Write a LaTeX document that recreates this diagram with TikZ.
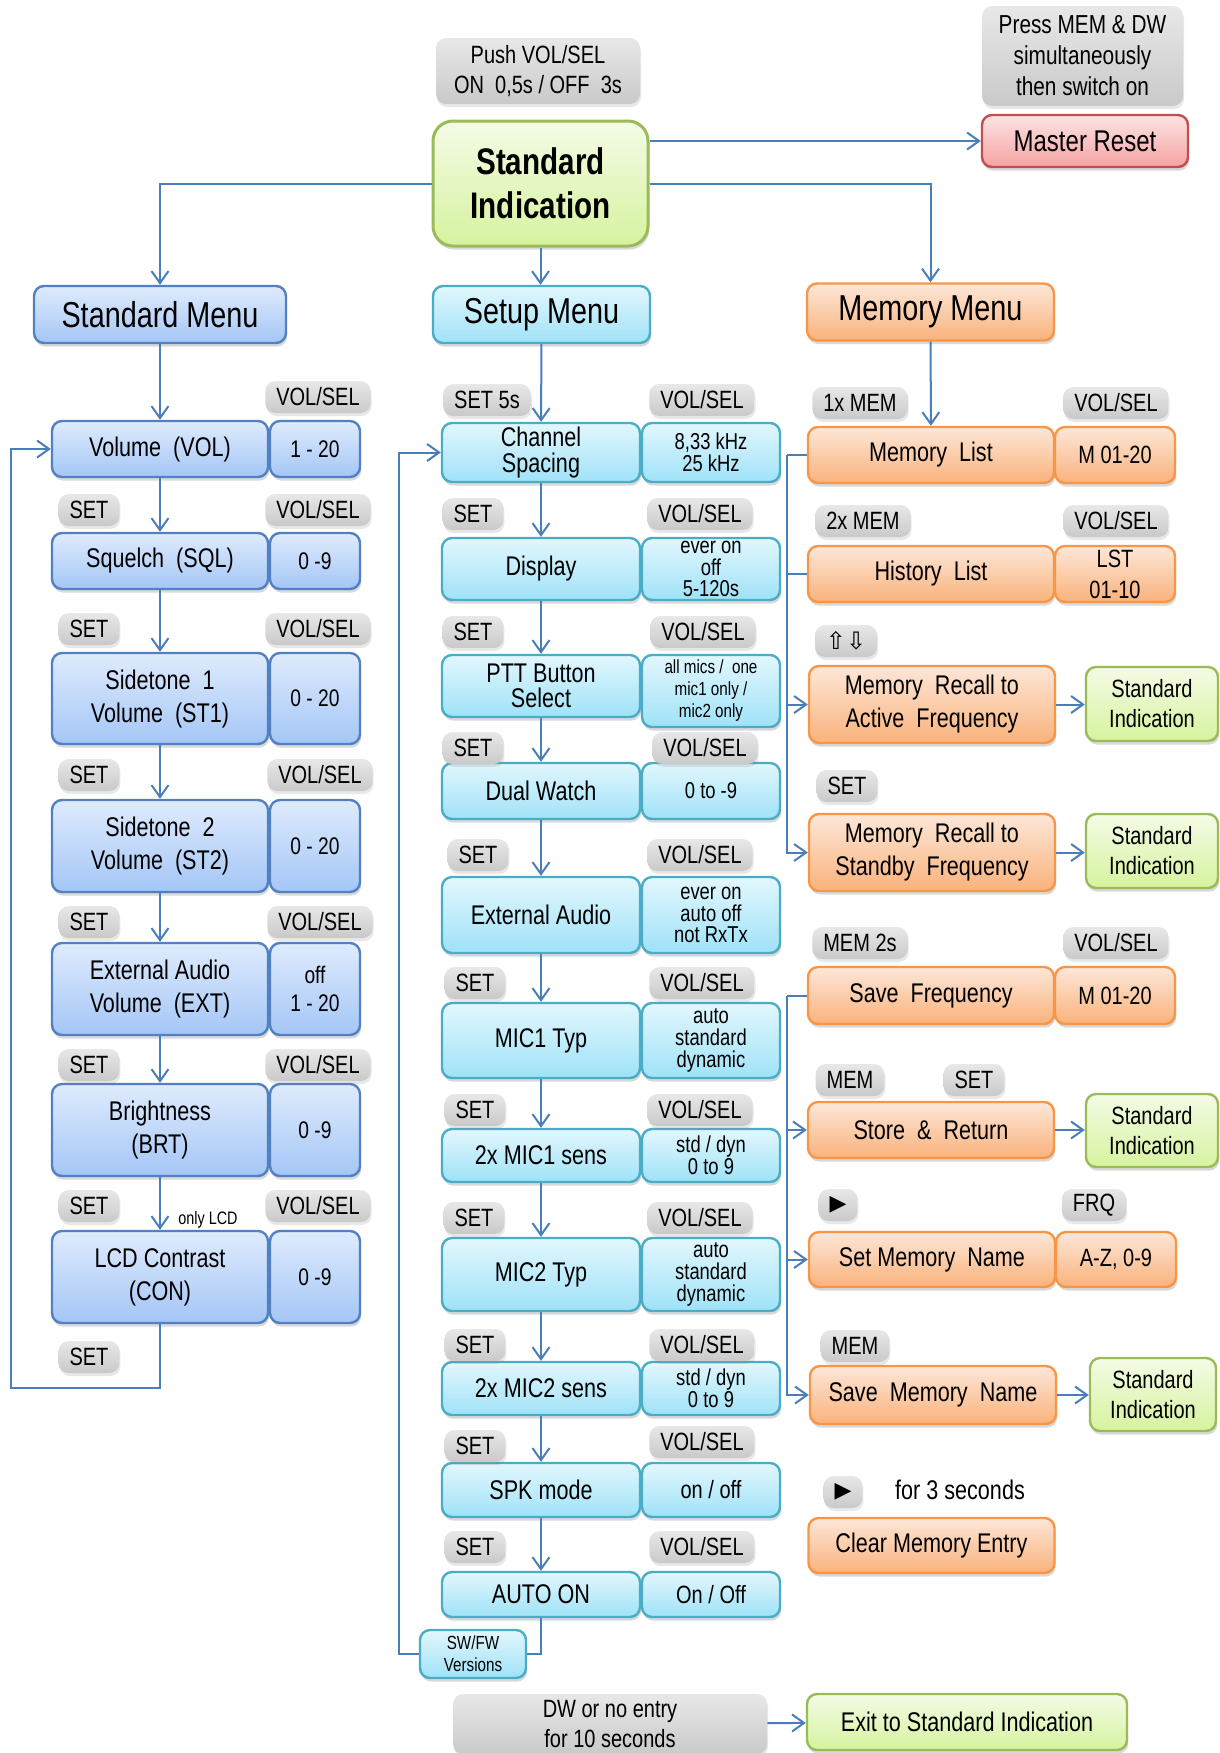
\documentclass[tikz,border=0pt]{standalone}
\usepackage{fontspec}
\setmainfont[FakeStretch=0.8]{Liberation Sans}
\newfontfamily\symfont{DejaVu Sans}
\usetikzlibrary{arrows.meta,shadows}

\definecolor{linecol}{HTML}{4A7EBB}
\definecolor{stdtop}{HTML}{DFEBFD}
\definecolor{stdbot}{HTML}{A4C6F6}
\definecolor{stdline}{HTML}{5281C3}
\definecolor{settop}{HTML}{E2F7FE}
\definecolor{setbot}{HTML}{9FE2F8}
\definecolor{setline}{HTML}{4BACC6}
\definecolor{memtop}{HTML}{FDE7D8}
\definecolor{membot}{HTML}{FAB27B}
\definecolor{memline}{HTML}{F79646}
\definecolor{oktop}{HTML}{F4FBE6}
\definecolor{okbot}{HTML}{D6F39E}
\definecolor{okline}{HTML}{9BBB59}
\definecolor{rsttop}{HTML}{FDE3E3}
\definecolor{rstbot}{HTML}{F5A2A2}
\definecolor{rstline}{HTML}{C0504D}
\definecolor{keytop}{HTML}{E8E8E8}
\definecolor{keybot}{HTML}{C9C9C9}

\newcommand{\volsel}{VOL/SEL}

\tikzset{
  conn/.style={draw=linecol, line width=1pt},
  arr/.style={conn, -{Straight Barb[length=6pt, width=8.5pt]}},
  rbox/.style={rounded corners=5pt, align=center, inner sep=0pt},
  box/.style={rbox, line width=1.2pt,
    drop shadow={shadow xshift=0.6pt, shadow yshift=-1.8pt, opacity=0.3},
    font=\fontsize{13.5}{16.5}\selectfont},
  stdbox/.style={box, draw=stdline, top color=stdtop, bottom color=stdbot},
  setupbox/.style={box, draw=setline, top color=settop, bottom color=setbot},
  membox/.style={box, draw=memline, top color=memtop, bottom color=membot},
  okbox/.style={box, draw=okline, top color=oktop, bottom color=okbot,
    font=\fontsize{12.5}{15}\selectfont},
  resetbox/.style={box, draw=rstline, top color=rsttop, bottom color=rstbot,
    font=\fontsize{15}{17}\selectfont},
  graybox/.style={rbox, top color=keytop, bottom color=keybot,
    drop shadow={shadow xshift=0.5pt, shadow yshift=-1.5pt, opacity=0.18},
    font=\fontsize{12.5}{15}\selectfont},
  keylbl/.style={graybox, inner xsep=5.5pt, minimum height=16pt},
  head/.style={minimum height=28.5pt, font=\fontsize{18}{20}\selectfont},
  lmain/.style={stdbox, minimum width=108pt},
  lval/.style={stdbox, minimum width=45pt, font=\fontsize{12}{14}\selectfont},
  mmain/.style={setupbox, minimum width=99pt},
  mval/.style={setupbox, minimum width=69pt, font=\fontsize{11.5}{10.8}\selectfont},
  rmain/.style={membox, minimum width=123pt},
  rval/.style={membox, minimum width=60pt, font=\fontsize{12.5}{15.5}\selectfont},
  tight/.style={font=\fontsize{13.5}{12.8}\selectfont}
}

\begin{document}
\begin{tikzpicture}[x=0.5pt, y=-0.5pt]
\useasboundingbox (0,0) rectangle (1220,1753);

% top row
\node[graybox, minimum width=102pt, minimum height=33pt] (push) at (538,71) {Push VOL/SEL\\ON~~0,5s / OFF~~3s};
\node[okbox, rounded corners=10pt, line width=1.5pt, minimum width=107.5pt, minimum height=62.5pt,
  font=\bfseries\fontsize{18.5}{22}\selectfont] (stdind) at (540.5,183.5) {Standard\\Indication};
\node[graybox, minimum width=100.5pt, minimum height=50pt, font=\fontsize{13}{15.5}\selectfont] (press) at (1082.5,56) {Press MEM \& DW\\simultaneously\\then switch on};
\node[resetbox, minimum width=103pt, minimum height=26pt] (reset) at (1085,141) {Master Reset};

% menu heads
\node[stdbox, head, minimum width=126pt] (stdmenu) at (160,314.5) {Standard Menu};
\node[setupbox, head, minimum width=108.5pt] (setupmenu) at (541.5,314.5) {Setup Menu};
\node[membox, head, minimum width=123.5pt] (memmenu) at (930.5,312) {Memory Menu};

% standard menu
\node[lmain, minimum height=28pt] (vol) at (160,449) {Volume~~(VOL)};
\node[lval, minimum height=28pt] (volv) at (315,449) {1 - 20};
\node[lmain, minimum height=28pt] (sql) at (160,561) {Squelch~~(SQL)};
\node[lval, minimum height=28pt] (sqlv) at (315,561) {0 -9};
\node[lmain, minimum height=45.5pt] (stone) at (160,698.5) {Sidetone~~1\\Volume~~(ST1)};
\node[lval, minimum height=45.5pt] (stonev) at (315,698.5) {0 - 20};
\node[lmain, minimum height=46pt] (sttwo) at (160,846) {Sidetone~~2\\Volume~~(ST2)};
\node[lval, minimum height=46pt] (sttwov) at (315,846) {0 - 20};
\node[lmain, minimum height=46pt] (ext) at (160,989) {External Audio\\Volume~~(EXT)};
\node[lval, minimum height=46pt] (extv) at (315,989) {off\\1 - 20};
\node[lmain, minimum height=46pt] (brt) at (160,1130) {Brightness\\(BRT)};
\node[lval, minimum height=46pt] (brtv) at (315,1130) {0 -9};
\node[lmain, minimum height=46pt] (con) at (160,1277) {LCD Contrast\\(CON)};
\node[lval, minimum height=46pt] (conv) at (315,1277) {0 -9};
\node[font=\fontsize{9}{10}\selectfont] (onlylcd) at (208,1220) {only LCD};

\foreach \x/\y/\t [count=\i] in {318/397/\volsel,
  89/510/SET, 318/510/\volsel, 89/629/SET, 318/629/\volsel,
  89/775/SET, 320/775/\volsel, 89/922/SET, 320/922/\volsel,
  89/1065/SET, 318/1065/\volsel, 89/1206/SET, 318/1206/\volsel,
  89/1357/SET}
  \node[keylbl] (lk\i) at (\x,\y) {\t};

% setup menu
\node[mmain, tight, minimum height=29.5pt] (chsp) at (541,452.5) {Channel\\Spacing};
\node[mval, minimum height=29.5pt] (chspv) at (711,452.5) {8,33 kHz\\25 kHz};
\node[mmain, minimum height=31pt] (disp) at (541,569) {Display};
\node[mval, minimum height=31pt] (dispv) at (711,569) {ever on\\off\\5-120s};
\node[mmain, tight, minimum height=31pt] (ptt) at (541,686) {PTT Button\\Select};
\node[mval, minimum height=36pt, font=\fontsize{9.5}{11}\selectfont] (pttv) at (711,691) {all mics /~~one\\mic1 only /\\mic2 only};
\node[mmain, minimum height=28pt] (dwatch) at (541,791) {Dual Watch};
\node[mval, minimum height=28pt] (dwatchv) at (711,791) {0 to -9};
\node[mmain, minimum height=38pt] (extaud) at (541,915) {External Audio};
\node[mval, minimum height=38pt] (extaudv) at (711,915) {ever on\\auto off\\not RxTx};
\node[mmain, minimum height=37.5pt] (micat) at (541,1040.5) {MIC1 Typ};
\node[mval, minimum height=37.5pt] (micatv) at (711,1040.5) {auto\\standard\\dynamic};
\node[mmain, minimum height=26.5pt] (micas) at (541,1155.5) {2x MIC1 sens};
\node[mval, minimum height=26.5pt] (micasv) at (711,1155.5) {std / dyn\\0 to 9};
\node[mmain, minimum height=36.5pt] (micbt) at (541,1274.5) {MIC2 Typ};
\node[mval, minimum height=36.5pt] (micbtv) at (711,1274.5) {auto\\standard\\dynamic};
\node[mmain, minimum height=26.5pt] (micbs) at (541,1388.5) {2x MIC2 sens};
\node[mval, minimum height=26.5pt] (micbsv) at (711,1388.5) {std / dyn\\0 to 9};
\node[mmain, minimum height=27pt] (spk) at (541,1490) {SPK mode};
\node[mval, minimum height=27pt, font=\fontsize{12.5}{14}\selectfont] (spkv) at (711,1490) {on / off};
\node[mmain, minimum height=22.5pt] (autoon) at (541,1594.5) {AUTO ON};
\node[mval, minimum height=22.5pt, font=\fontsize{12.5}{14}\selectfont] (autoonv) at (711,1594.5) {On / Off};
\node[setupbox, minimum width=53pt, minimum height=24pt, font=\fontsize{9.5}{11}\selectfont] (swfw) at (473,1654) {SW/FW\\Versions};

\foreach \x/\y/\t [count=\i] in {487/400/SET 5s, 702/400/\volsel,
  473/514/SET, 700/514/\volsel, 473/632/SET, 703/632/\volsel,
  473/748/SET, 705/748/\volsel, 478/855/SET, 700/855/\volsel,
  475/983/SET, 702/983/\volsel, 475/1110/SET, 700/1110/\volsel,
  474/1218/SET, 700/1218/\volsel, 475/1345/SET, 702/1345/\volsel,
  475/1446/SET, 702/1442/\volsel, 475/1547/SET, 702/1547/\volsel}
  \node[keylbl] (mk\i) at (\x,\y) {\t};

% memory menu
\node[rmain, minimum height=28pt] (memlist) at (931,455) {Memory~~List};
\node[rval, minimum height=28pt] (memlistv) at (1115,455) {M 01-20};
\node[rmain, minimum height=28pt] (hislist) at (931,574) {History~~List};
\node[rval, minimum height=28pt] (hislistv) at (1115,574) {LST\\01-10};
\node[rmain, minimum height=38.5pt] (recact) at (932,704.5) {Memory~~Recall to\\Active~~Frequency};
\node[okbox, minimum width=66pt, minimum height=37pt] (oka) at (1152,704) {Standard\\Indication};
\node[rmain, minimum height=38.5pt] (recsby) at (932,852.5) {Memory~~Recall to\\Standby~~Frequency};
\node[okbox, minimum width=66pt, minimum height=37pt] (okb) at (1152,851) {Standard\\Indication};
\node[rmain, minimum height=28.5pt] (savefrq) at (931,995.5) {Save~~Frequency};
\node[rval, minimum height=28.5pt] (savefrqv) at (1115,995.5) {M 01-20};
\node[rmain, minimum height=28pt] (store) at (931,1130) {Store~~\&~~Return};
\node[okbox, minimum width=66pt, minimum height=36.5pt] (okc) at (1152,1130.5) {Standard\\Indication};
\node[rmain, minimum height=27.5pt] (setname) at (932,1259.5) {Set Memory~~Name};
\node[rval, minimum height=27.5pt] (setnamev) at (1116,1259.5) {A-Z, 0-9};
\node[rmain, minimum height=29pt] (savename) at (933,1395) {Save~~Memory~~Name};
\node[okbox, minimum width=63pt, minimum height=36.5pt] (okd) at (1153,1394.5) {Standard\\Indication};
\node[rmain, minimum height=27.5pt] (clear) at (931.5,1545.5) {Clear Memory Entry};

\foreach \x/\y/\t [count=\i] in {860/403/1x MEM, 1116/403/\volsel,
  863/521/2x MEM, 1116/521/\volsel, 847/786/SET,
  860/943/MEM 2s, 1116/943/\volsel, 850/1080/MEM, 974/1080/SET,
  1094/1205/FRQ, 855/1346/MEM}
  \node[keylbl] (rk\i) at (\x,\y) {\t};
\node[keylbl, font=\symfont\fontsize{12}{14}\selectfont] (updown) at (846,641) {⇧⇩};
\node[keylbl, font=\symfont\fontsize{11}{14}\selectfont] (playa) at (838,1205) {▶};
\node[keylbl, font=\symfont\fontsize{11}{14}\selectfont] (playb) at (843,1492) {▶};
\node[font=\fontsize{13.5}{16}\selectfont] (hold) at (960,1490) {for 3 seconds};

% bottom
\node[graybox, minimum width=157pt, minimum height=30pt] (noentry) at (610,1724) {DW or no entry\\for 10 seconds};
\node[okbox, minimum width=160pt, minimum height=28pt, font=\fontsize{13.5}{16}\selectfont] (exit) at (967,1722) {Exit to Standard Indication};

% connectors
\draw[arr] (stdind.east |- reset.west) -- (reset.west);
\draw[arr] (stdind.west) -| (stdmenu.north);
\draw[arr] (stdind.east) -| (memmenu.north);
\draw[arr] (stdind.south) -- (stdind.south |- setupmenu.north);

\draw[arr] (stdmenu) -- (vol);
\foreach \a/\b in {vol/sql, sql/stone, stone/sttwo, sttwo/ext, ext/brt, brt/con}
  \draw[arr] (\a) -- (\b);
\coordinate (lloop) at (11,1388);
\draw[arr] (con.south) |- (lloop) |- (vol.west);

\draw[arr] (setupmenu) -- (chsp);
\foreach \a/\b in {chsp/disp, disp/ptt, ptt/dwatch, dwatch/extaud, extaud/micat,
  micat/micas, micas/micbt, micbt/micbs, micbs/spk, spk/autoon}
  \draw[arr] (\a) -- (\b);
\coordinate (mloop) at (399,1654);
\draw[conn] (autoon.south) |- (swfw.east);
\draw[arr] (swfw.west) -- (mloop) |- (chsp.west);

\draw[arr] (memmenu) -- (memlist);
\coordinate (busa) at (787,455);
\draw[conn] (memlist.west) -- (busa);
\draw[conn] (hislist.west) -- (hislist.west -| busa);
\draw[arr] (busa) |- (recact.west);
\draw[arr] (busa) |- (recsby.west);
\coordinate (busb) at (787,995.5);
\draw[conn] (savefrq.west) -- (busb);
\draw[arr] (busb) |- (store.west);
\draw[arr] (busb) |- (setname.west);
\draw[arr] (busb) |- (savename.west);
\draw[arr] (recact.east) -- (recact.east -| oka.west);
\draw[arr] (recsby.east) -- (recsby.east -| okb.west);
\draw[arr] (store.east) -- (store.east -| okc.west);
\draw[arr] (savename.east) -- (savename.east -| okd.west);
\draw[arr] (noentry) -- (exit);
\end{tikzpicture}
\end{document}
